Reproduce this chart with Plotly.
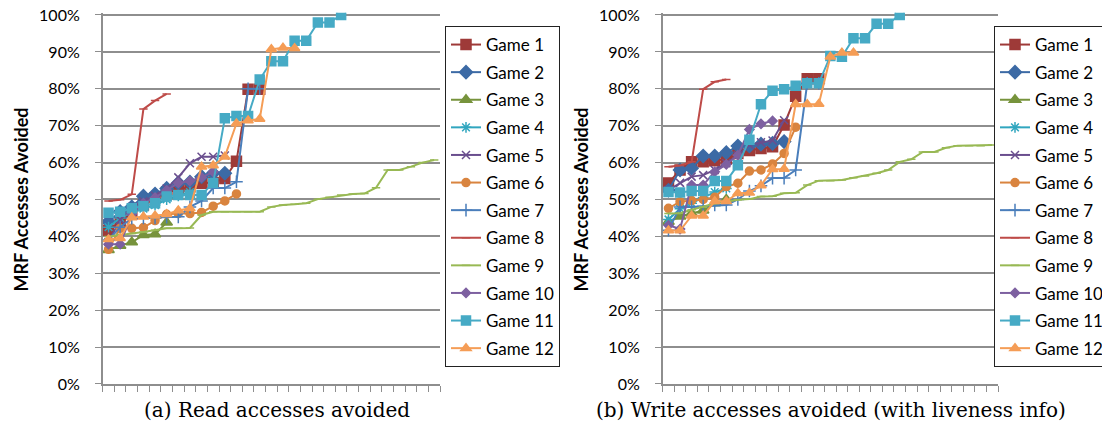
import plotly.graph_objects as go

games = [f"Game {i}" for i in range(1, 13)]
n_categories = 29
y_ticks = list(range(0, 101, 10))
y_tick_labels = [f"{v}%" for v in y_ticks]

# (a) Read accesses avoided, values in %
read_g1 = [41.7, 44.0, 46.0, 48.5, 50.5, 52.0, 52.6, 53.5, 54.4, 54.6, 55.7, 60.4, 79.9, 79.9]
read_g2 = [44.0, 46.7, 48.0, 50.9, 51.5, 53.0, 54.5, 54.7, 56.2, 57.1, 57.1]
read_g3 = [36.3, 37.5, 38.4, 40.4, 40.6, 43.8]
read_g4 = [42.5, 45.0, 46.5, 47.5, 48.5, 50.0, 51.0, 52.0]
read_g5 = [38.5, 44.5, 48.0, 49.5, 51.0, 53.0, 56.0, 59.8, 61.6, 61.6, 61.9]
read_g6 = [36.5, 42.2, 42.2, 42.4, 44.3, 46.0, 46.2, 46.2, 46.5, 48.2, 49.6, 51.5]
read_g7 = [39.0, 42.5, 44.9, 45.0, 45.0, 45.2, 45.3, 48.0, 49.6, 53.1, 53.1, 54.8, 80.0, 80.0]
read_g8 = [49.6, 49.9, 51.4, 74.5, 76.8, 78.6]
read_g9 = [40.0, 40.5, 40.8, 41.2, 41.7, 42.2, 42.2, 42.3, 45.8, 46.7, 46.7, 46.7, 46.7, 46.7,
           48.0, 48.5, 48.7, 49.0, 50.1, 50.6, 51.2, 51.5, 51.6, 53.2, 58.0, 58.0, 58.9, 60.0, 60.7]
read_g10 = [37.9, 37.9, 46.0, 49.0, 50.5, 52.5, 54.5, 55.0, 56.0, 57.5]
read_g11 = [46.4, 46.7, 47.6, 48.2, 49.0, 50.8, 51.2, 51.2, 51.2, 54.5, 72.0, 72.6, 72.6, 82.5,
            87.5, 87.5, 93.0, 93.0, 98.0, 98.0, 100.0]
read_g12 = [39.2, 39.5, 45.1, 45.3, 45.6, 46.0, 47.0, 47.6, 58.9, 59.2, 61.6, 70.6, 71.4, 71.8,
            90.7, 91.1, 91.0]

# (b) Write accesses avoided (with liveness info), values in %
write_g1 = [54.5, 58.0, 60.2, 60.2, 60.5, 61.0, 62.5, 63.3, 63.8, 64.3, 70.2, 78.0, 82.7, 82.7]
write_g2 = [52.5, 58.0, 58.5, 61.8, 61.8, 62.7, 64.5, 64.5, 65.0, 65.2, 65.7]
write_g3 = [44.0, 45.4, 46.2, 47.0, 49.0, 50.0]
write_g4 = [44.6, 47.5, 49.0, 50.5, 52.0, 53.0]
write_g5 = [52.6, 54.5, 56.2, 56.6, 58.0, 59.8, 62.0, 64.8, 65.5, 66.0, 71.5]
write_g6 = [47.6, 49.4, 49.7, 50.0, 50.6, 53.5, 54.4, 57.7, 58.0, 59.6, 62.5, 69.6]
write_g7 = [41.7, 48.0, 48.0, 48.2, 48.5, 48.5, 50.0, 52.3, 53.7, 55.8, 55.8, 58.0, 81.5, 81.5]
write_g8 = [58.9, 59.2, 60.2, 79.9, 81.9, 82.5]
write_g9 = [46.2, 46.3, 47.2, 48.0, 48.9, 49.4, 49.9, 50.1, 50.8, 50.9, 51.7, 51.8, 53.9, 55.1,
            55.1, 55.3, 55.9, 56.4, 57.1, 58.0, 60.2, 60.9, 62.9, 62.9, 64.0, 64.6, 64.6, 64.6, 64.8]
write_g10 = [43.0, 42.0, 53.9, 53.9, 57.5, 59.5, 62.0, 69.0, 70.5, 71.3]
write_g11 = [52.0, 51.9, 52.3, 52.3, 55.0, 55.0, 59.3, 66.2, 75.8, 79.5, 79.9, 80.8, 81.5, 81.5,
             88.9, 88.7, 93.7, 93.7, 97.6, 97.6, 100.0]
write_g12 = [41.6, 41.6, 45.6, 45.6, 49.5, 49.5, 51.7, 51.8, 53.8, 58.2, 58.3, 75.8, 75.8, 75.9,
             88.7, 89.8, 89.8]

read_series = [read_g1, read_g2, read_g3, read_g4, read_g5, read_g6,
               read_g7, read_g8, read_g9, read_g10, read_g11, read_g12]
write_series = [write_g1, write_g2, write_g3, write_g4, write_g5, write_g6,
                write_g7, write_g8, write_g9, write_g10, write_g11, write_g12]

colors = ["#9E3A38", "#3C6AA5", "#77933C", "#31A6BF", "#6A4E8E", "#D9843F",
          "#4A7EBB", "#BE4B48", "#98B954", "#7D60A0", "#46AAC5", "#F59D56"]
symbols = ["square", "diamond", "triangle-up", "asterisk-open", "x-thin-open", "circle",
           "cross-thin-open", "line-ew-open", "line-ew-open", "diamond", "square", "triangle-up"]
sizes = [10, 10, 10, 9, 8, 8, 9, 6, 6, 7, 9, 9]

fig = go.Figure()

panels = [(read_series, "x", "y", "legend", "a"), (write_series, "x2", "y2", "legend2", "b")]
for series, xa, ya, lg, tag in panels:
    for k, vals in enumerate(series):
        fig.add_trace(go.Scatter(
            x=list(range(len(vals))), y=vals, name=games[k], mode="lines+markers",
            xaxis=xa, yaxis=ya, legend=lg, legendgroup=f"{tag}{k}",
            line=dict(color=colors[k], width=2),
            marker=dict(symbol=symbols[k], size=sizes[k], color=colors[k],
                        line=dict(color=colors[k], width=1.5)),
        ))

W = 1102.0
H = 430.0


def px(x):
    return x / W


def py(y):
    return 1 - y / H


Y_MAX = 100.6
PX_PER_PCT = (384 - 15) / 100.0
ytop, ybot = py(15 - (Y_MAX - 100) * PX_PER_PCT), py(384)
tick_font = dict(family="Lato, Carlito, sans-serif", size=16, color="#000")

xcommon = dict(range=[-0.5, n_categories - 0.5], tickvals=[i - 0.5 for i in range(n_categories + 1)],
               showticklabels=False, ticks="outside", ticklen=6, tickcolor="#8E8E8E", tickwidth=1,
               showgrid=False, showline=True, linecolor="#8E8E8E", linewidth=1.5, zeroline=False,
               fixedrange=True)
ycommon = dict(range=[0, Y_MAX], tickvals=y_ticks, ticktext=y_tick_labels, ticks="outside", ticklen=6,
               tickcolor="#8E8E8E", tickfont=tick_font, showgrid=True, gridcolor="#8E8E8E",
               gridwidth=1.5, showline=True, linecolor="#8E8E8E", linewidth=1.5, zeroline=False,
               ticklabelstandoff=12, ticklabeloverflow="allow", fixedrange=True)

legend_common = dict(y=py(26), xanchor="left", yanchor="top",
                     bordercolor="#222", borderwidth=1, bgcolor="white", itemwidth=30,
                     font=dict(family="Lato, Carlito, sans-serif", size=17, color="#000"),
                     tracegroupgap=2.5)

fig.update_layout(
    width=int(W), height=int(H), margin=dict(l=0, r=0, t=0, b=0, autoexpand=False),
    paper_bgcolor="white", plot_bgcolor="white",
    xaxis=dict(domain=[px(102.7), px(440)], anchor="y", **xcommon),
    yaxis=dict(domain=[ybot, ytop], anchor="x", **ycommon),
    xaxis2=dict(domain=[px(662.7), px(998)], anchor="y2", **xcommon),
    yaxis2=dict(domain=[ybot, ytop], anchor="x2", **ycommon),
    legend=dict(x=px(445), **legend_common),
    legend2=dict(x=px(994), **legend_common),
    showlegend=True,
    hovermode=False,
)

title_font = dict(family="Lato, Carlito, sans-serif", size=18, color="#000")
for xpix in (20, 580):
    fig.add_annotation(text="<b>MRF Accesses Avoided</b>", x=px(xpix), y=(py(15) + ybot) / 2,
                       xref="paper", yref="paper", textangle=-90, showarrow=False,
                       font=title_font, xanchor="center", yanchor="middle")

sub_font = dict(family="DejaVu Serif, serif", size=20, color="#000")
fig.add_annotation(text="(a) Read accesses avoided", x=px(277), y=py(410),
                   xref="paper", yref="paper", showarrow=False, font=sub_font,
                   xanchor="center", yanchor="middle")
fig.add_annotation(text="(b) Write accesses avoided (with liveness info)", x=px(831), y=py(410),
                   xref="paper", yref="paper", showarrow=False, font=sub_font,
                   xanchor="center", yanchor="middle")

fig.write_html("out.html", config={"displayModeBar": False},
               post_script="document.body.style.margin='0';document.body.style.overflow='hidden';")
